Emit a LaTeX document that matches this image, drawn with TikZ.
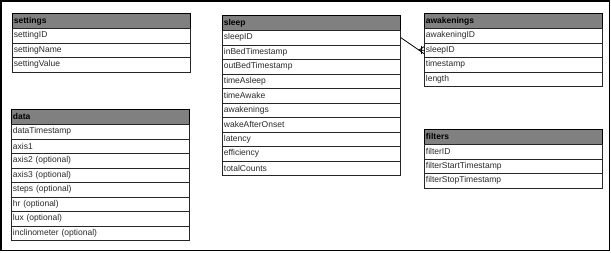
\documentclass[tikz,border=0pt]{standalone}
\usepackage{fontspec}
\setmainfont{Liberation Sans}
\usetikzlibrary{calc}
\definecolor{headgray}{HTML}{808080}
\definecolor{fieldtext}{HTML}{2A2A2A}
\tikzset{
  tablehead/.style={draw=black, line width=0.8pt, fill=headgray, anchor=north west,
    minimum width=178pt, minimum height=15pt, text width=175pt, align=left,
    inner sep=1.5pt, font=\fontsize{8.5}{10}\selectfont\bfseries, text=black},
  tablefield/.style={draw=black!85, line width=0.8pt, fill=white, anchor=north west,
    minimum width=178pt, minimum height=14.5pt, text width=175pt, align=left,
    inner sep=1.5pt, font=\fontsize{8.5}{10}\selectfont, text=fieldtext},
  frameline/.style={draw=black, line width=1.5pt},
  relation/.style={draw=black, line width=0.8pt}
}
% \ertable{name}{x}{y}{title}{fields}
\newcommand\ertable[5]{%
  \node[tablehead] (#1) at (#2,#3) {#4};
  \foreach \f [count=\i] in {#5} {
    \node[tablefield] (#1-\i) at (#2,{#3+15+(\i-1)*14.5}) {\f};
  }
}
\begin{document}
\begin{tikzpicture}[x=1pt,y=-1pt]
  \useasboundingbox (0,0) rectangle (611,252);
  \draw[frameline] (0.75,0.75) rectangle (609.5,250.5);

  \ertable{settings}{12}{13}{settings}{settingID,settingName,settingValue}
  \ertable{data}{11}{109}{data}{dataTimestamp,axis1,axis2 (optional),axis3 (optional),steps (optional),hr (optional),lux (optional),inclinometer (optional)}
  \ertable{sleep}{222}{15}{sleep}{sleepID,inBedTimestamp,outBedTimestamp,timeAsleep,timeAwake,awakenings,wakeAfterOnset,latency,efficiency,totalCounts}
  \ertable{awakenings}{424}{13}{awakenings}{awakeningID,sleepID,timestamp,length}
  \ertable{filters}{424}{129}{filters}{filterID,filterStartTimestamp,filterStopTimestamp}

  % one sleep record to many awakenings
  \coordinate (fork) at ($(awakenings-2.west)+(-5,0)$);
  \draw[relation] (sleep-1.east) -- (fork) -- (awakenings-2.west);
  \draw[relation] (fork) -- ($(awakenings-2.west)+(0,-3.5)$);
  \draw[relation] (fork) -- ($(awakenings-2.west)+(0,3.5)$);
  \draw[relation] ($(awakenings-2.west)+(-3,-4)$) -- ($(awakenings-2.west)+(-3,4)$);
\end{tikzpicture}
\end{document}
